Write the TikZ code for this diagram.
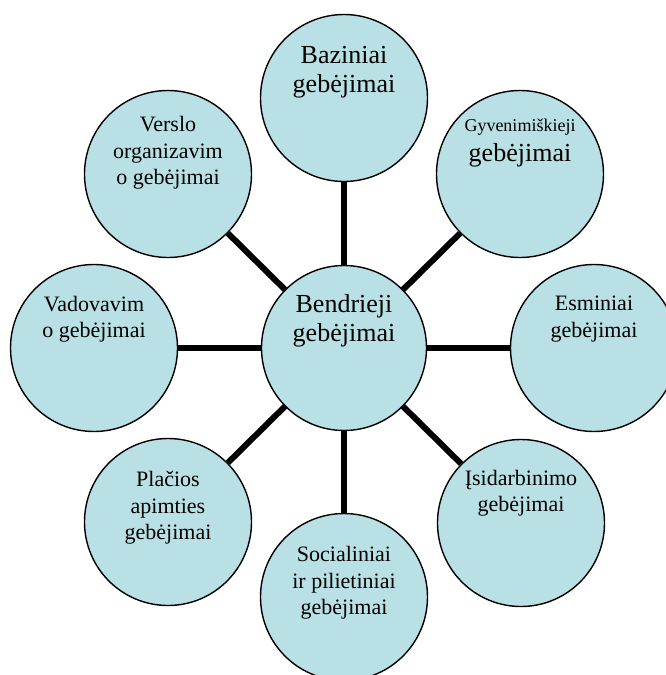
\documentclass[tikz,border=0pt]{standalone}
\usepackage{fontspec}
\setmainfont{Liberation Serif}
\usetikzlibrary{positioning}
\definecolor{skillblue}{RGB}{185,224,228}

\begin{document}
\begin{tikzpicture}[x=1pt, y=-1pt,
  main/.style = {draw, circle, fill=skillblue, line width=1.4pt, minimum size=167pt, inner sep=0pt},
  txt/.style = {align=center, inner sep=0pt, font=\fontsize{22}{26.5}\selectfont},
  big/.style = {font=\fontsize{26}{29}\selectfont},
  spoke/.style = {line width=6pt}]
  \useasboundingbox (0,0) rectangle (666,675);
  \node[main, minimum size=165pt] (0) at (344,348) {};
  \node[main, node distance={250pt}, on grid] (1) [above=of 0] {};
  \node[main, on grid] (2) [above right=174pt and 176pt of 0] {};
  \node[main, node distance={250pt}, on grid] (3) [right=of 0] {};
  \node[main, on grid] (4) [below right=175pt and 177pt of 0] {};
  \node[main, node distance={249pt}, on grid] (5) [below=of 0] {};
  \node[main, on grid] (6) [below left=174pt and 176pt of 0] {};
  \node[main, node distance={250pt}, on grid] (7) [left=of 0] {};
  \node[main, on grid] (8) [above left=174pt and 176pt of 0] {};
  \foreach \i in {1,...,8}
    \draw[spoke] (0) -- (\i);
  % texts in the upper half of each circle
  \node[txt, big] (t0) at ([yshift=27pt]0) {Bendrieji\\gebėjimai};
  \node[txt, big] (t1) at ([yshift=26pt]1) {Baziniai\\gebėjimai};
  \node[txt, font=\fontsize{18}{20}\selectfont] (t2) at ([yshift=31pt]2) {Gyvenimiškieji\\[7pt]\fontsize{26}{28}\selectfont gebėjimai};
  \node[txt] (t3) at ([yshift=29pt]3) {Esminiai\\gebėjimai};
  \node[txt] (t4) at ([yshift=30pt]4) {Įsidarbinimo\\gebėjimai};
  \node[txt] (t5) at ([yshift=14pt]5) {Socialiniai\\ir pilietiniai\\gebėjimai};
  \node[txt] (t6) at ([yshift=14pt]6) {Plačios\\apimties\\gebėjimai};
  \node[txt] (t7) at ([yshift=29pt]7) {Vadovavim\\o gebėjimai};
  \node[txt] (t8) at ([yshift=21pt]8) {Verslo\\organizavim\\o gebėjimai};
\end{tikzpicture}
\end{document}
